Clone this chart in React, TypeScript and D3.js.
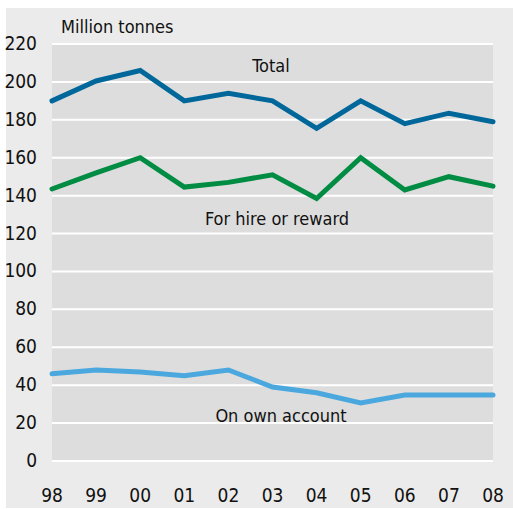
import React from "react";
import * as d3 from "d3";

const years = ["98", "99", "00", "01", "02", "03", "04", "05", "06", "07", "08"];
const total = [190, 200.5, 206, 190, 194, 190, 175.5, 190, 178, 183.5, 179];
const forHire = [143.5, 152, 160, 144.5, 147, 151, 138.5, 160, 143, 150, 145];
const ownAccount = [46, 48, 47, 45, 48, 39, 36, 30.6, 34.8, 34.8, 34.8];
const yTicks = [0, 20, 40, 60, 80, 100, 120, 140, 160, 180, 200, 220];

const series = [
  { name: "Total", values: total, color: "#00679b", label: { x: 2.25, y: 210 } },
  { name: "For hire or reward", values: forHire, color: "#008c43", label: { x: 5.0, y: 125 } },
  { name: "On own account", values: ownAccount, color: "#4ba8de", label: { x: 5.0, y: 21 } },
];

const W = 513;
const H = 509;
const FONT = "'Liberation Sans Narrow', 'Arial Narrow', 'DejaVu Sans Condensed', sans-serif";

export default function App() {
  const x = d3.scalePoint<string>().domain(years).range([52, 493]);
  const y = d3.scaleLinear().domain([0, 220]).range([461, 44]);
  const line = d3
    .line<number>()
    .x((_, i) => x(years[i]) as number)
    .y((d) => y(d));

  return (
    <svg
      width={W}
      height={H}
      style={{ position: "absolute", left: 0, top: 0, display: "block" }}
      fontFamily={FONT}
    >
      <rect x={0} y={0} width={W} height={H} fill="#ffffff" />
      <rect x={6} y={8} width={W - 6} height={500} fill="#ebebeb" />
      <rect x={52} y={44} width={441} height={417} fill="#dddddd" />
      {yTicks.map((t) => (
        <g key={t}>
          <line x1={52} x2={493} y1={y(t)} y2={y(t)} stroke="#ffffff" strokeWidth={2} />
          <text x={37} y={y(t) + 6} textAnchor="end" fontSize={19} fill="#111">
            {t}
          </text>
        </g>
      ))}
      {years.map((yr) => (
        <text key={yr} x={x(yr) as number} y={502} textAnchor="middle" fontSize={19} fill="#111">
          {yr}
        </text>
      ))}
      <text x={61} y={33} fontSize={18} fill="#111">
        Million tonnes
      </text>
      {series.map((s) => (
        <path
          key={s.name}
          d={line(s.values) || ""}
          fill="none"
          stroke={s.color}
          strokeWidth={5}
          strokeLinejoin="miter"
          strokeLinecap="round"
        />
      ))}
      <text x={271} y={72} textAnchor="middle" fontSize={18} fill="#111">
        Total
      </text>
      <text x={277} y={225} textAnchor="middle" fontSize={18} fill="#111">
        For hire or reward
      </text>
      <text x={281} y={422} textAnchor="middle" fontSize={18} fill="#111">
        On own account
      </text>
    </svg>
  );
}
